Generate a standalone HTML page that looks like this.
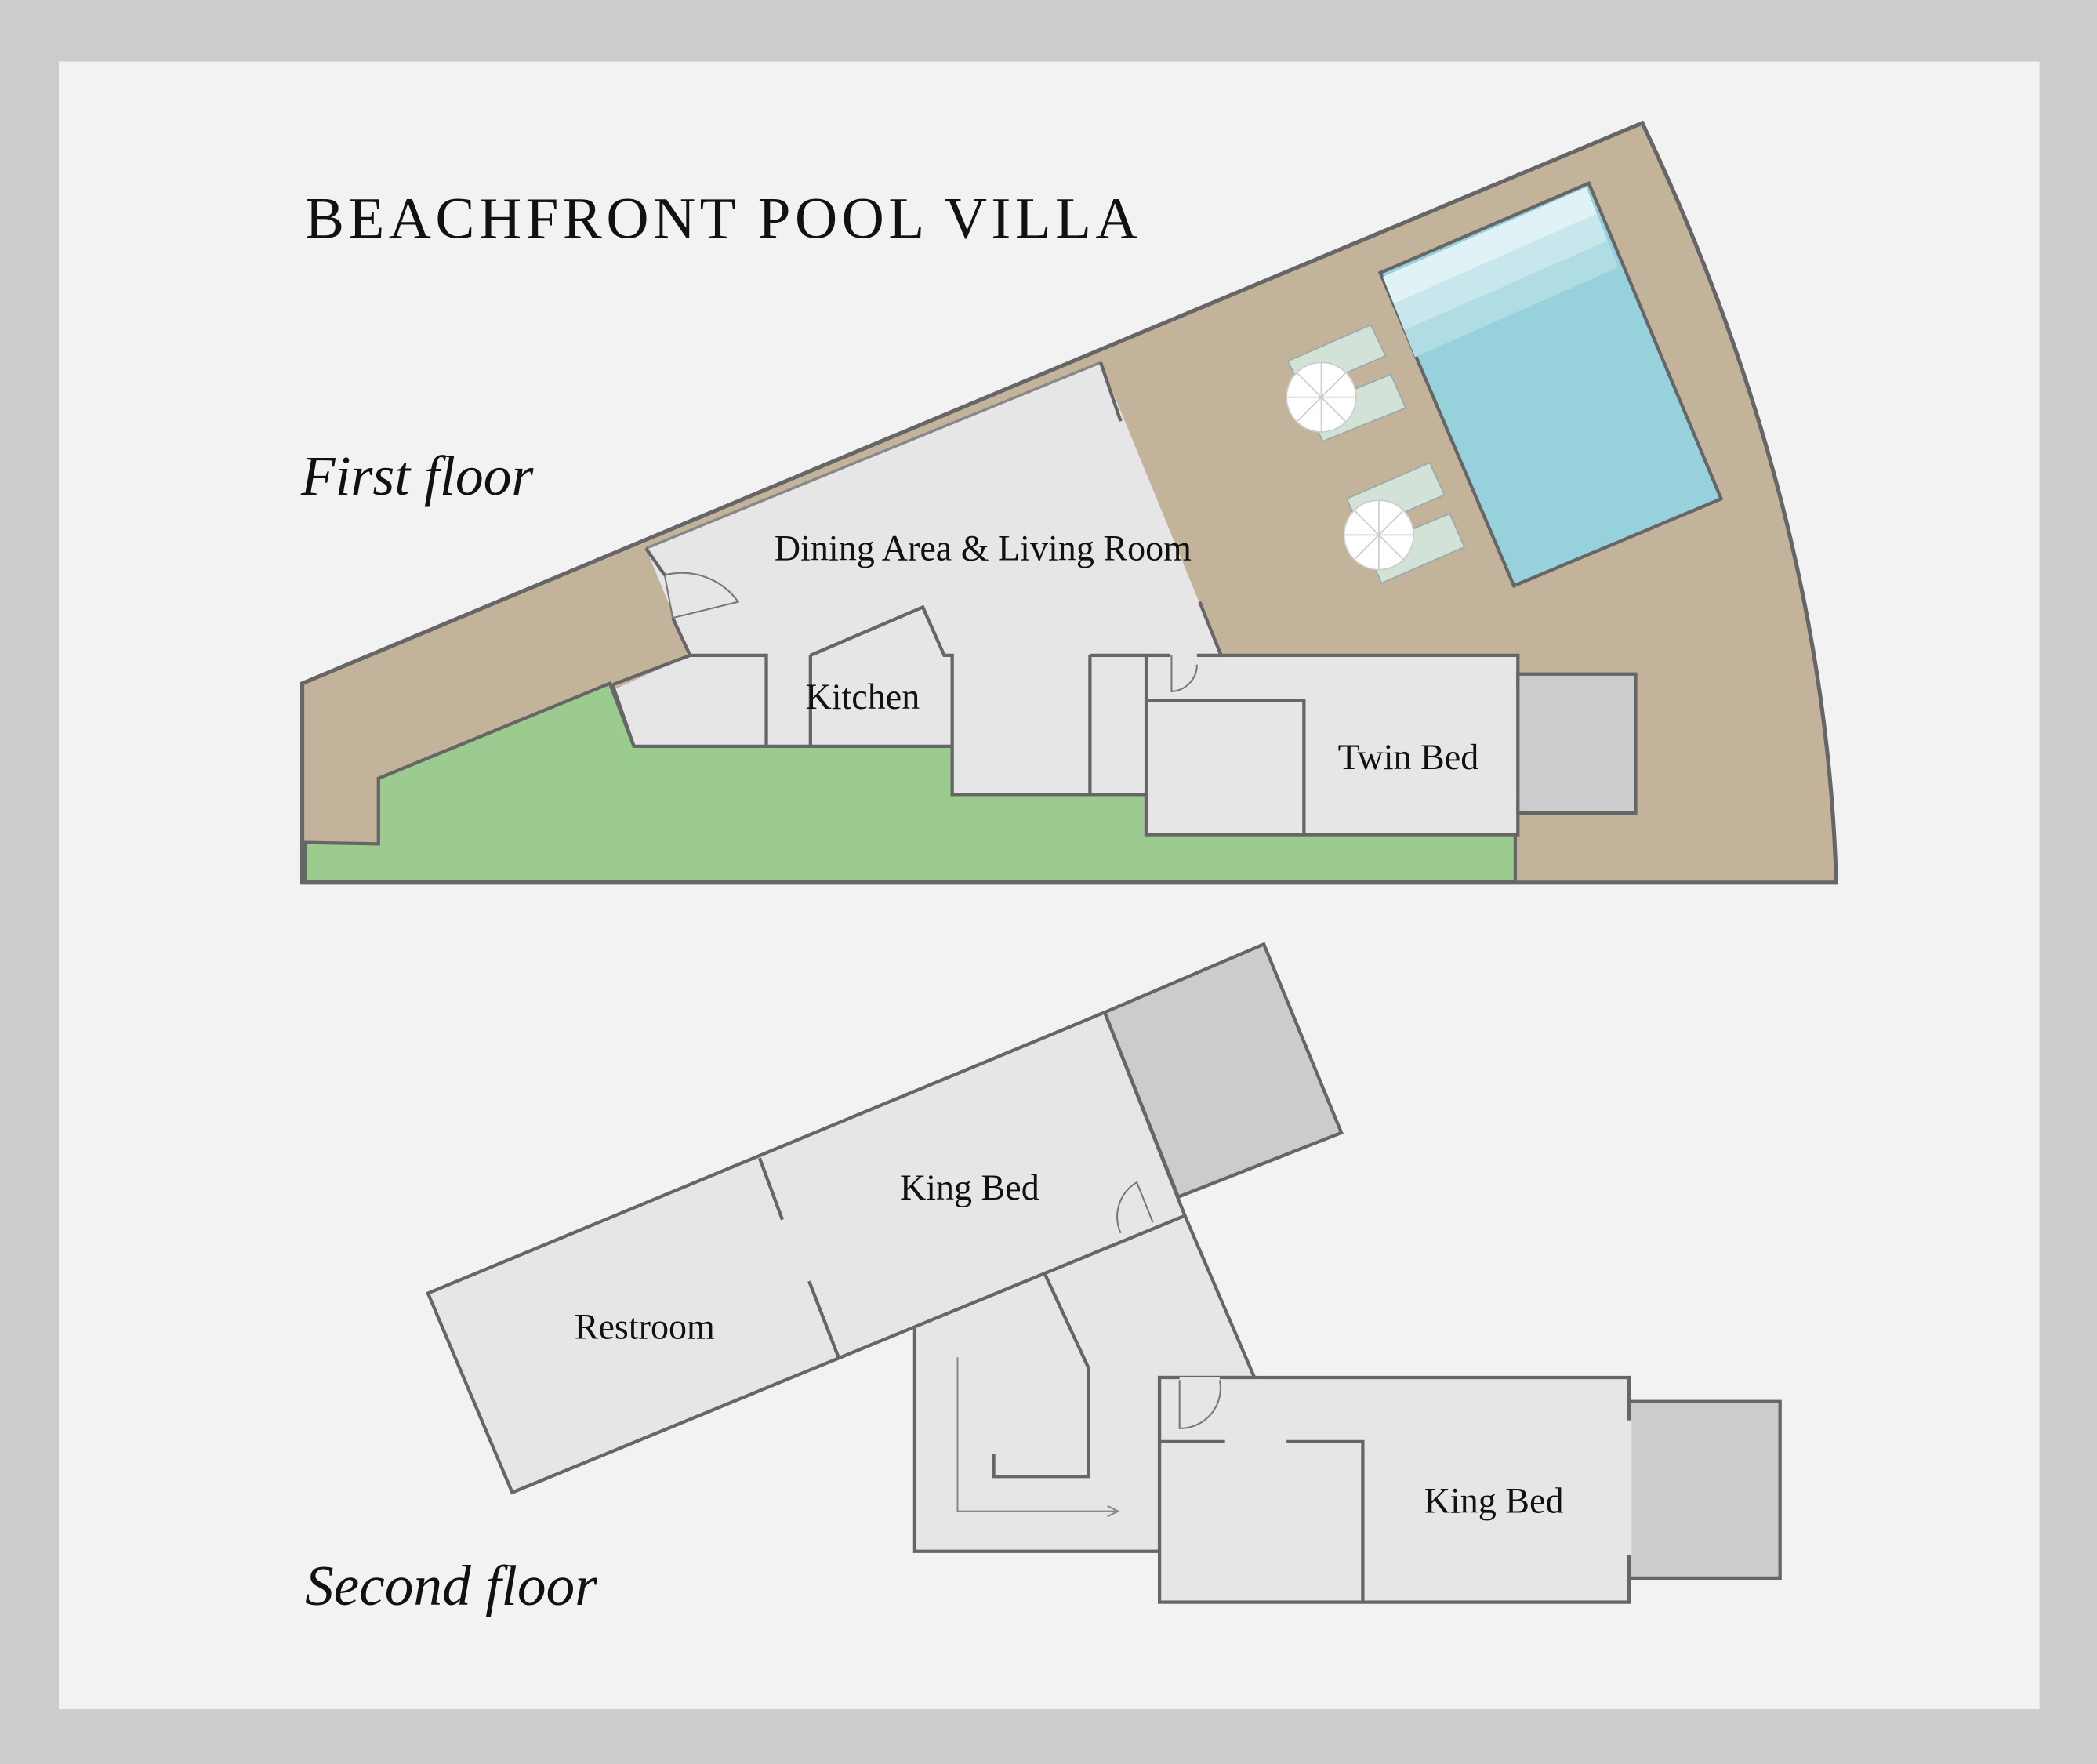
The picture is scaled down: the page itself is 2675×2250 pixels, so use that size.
<!DOCTYPE html>
<html><head><meta charset="utf-8"><style>
html,body{margin:0;padding:0;background:#ccc;}
svg{display:block}
</style></head><body>
<svg width="2675" height="2250" viewBox="0 0 1568 1319" preserveAspectRatio="none" xmlns="http://www.w3.org/2000/svg">
<rect x="0" y="0" width="1568" height="1319" fill="#cccccc"/>
<rect x="44" y="46" width="1481" height="1232" fill="#f2f2f2"/>
<text x="228" y="178" font-family="Liberation Serif, serif" font-size="44" letter-spacing="3.2" fill="#111">BEACHFRONT POOL VILLA</text>
<text x="225" y="370" font-family="Liberation Serif, serif" font-style="italic" font-size="42" fill="#111">First floor</text>
<text x="228" y="1200" font-family="Liberation Serif, serif" font-style="italic" font-size="43" fill="#111">Second floor</text>

<!-- First floor -->
<path d="M226,511 L1228,92 Q1365,380 1373,660 L226,660 Z" fill="#c2b39a" stroke="#666" stroke-width="3"/>
<polygon points="228,630 283,631 283,582 456,511 474,558 712,558 712,594 857,594 857,624 1133,624 1133,659 228,659" fill="#9ccb8f" stroke="#666" stroke-width="2.5"/>
<polygon points="483,410 823,271 913,490 1135,490 1135,624 857,624 857,594 712,594 712,558 474,558 458,516 516,490" fill="#e6e6e6"/>
<line x1="483" y1="410" x2="823" y2="271" stroke="#888" stroke-width="2"/>
<g fill="none" stroke="#666" stroke-width="2.5">
<polyline points="823,271 838,315"/>
<polyline points="897,450 913,490"/>
<polyline points="483,410 497,430"/>
<polyline points="503,462 516,490 573,490 573,558"/>
<polyline points="516,490 458,512 474,558 712,558"/>
<polyline points="606,490 606,558"/>
<polyline points="606,490 690,454 706,490 712,490 712,594 857,594"/>
<polyline points="815,490 815,594"/>
<polyline points="815,490 875,490"/>
<polyline points="857,490 857,624 1135,624 1135,600"/>
<polyline points="895,490 1135,490 1135,515"/>
<polyline points="857,524 975,524 975,624"/>
<rect x="1135" y="504" width="88" height="104" fill="#cccccc"/>
</g>
<path d="M497,430 L503,462 L552,450 A52,52 0 0 0 497,430" fill="none" stroke="#777" stroke-width="1.2"/>
<path d="M876,490 L876,517 A20,20 0 0 0 895,497" fill="none" stroke="#777" stroke-width="1.2"/>
<!-- pool -->
<polygon points="1032,204 1188,137 1287,373 1132,438" fill="#96d1dc" stroke="#666" stroke-width="2.5"/>
<polygon points="1034,207 1186,140 1194,160 1042,227" fill="#e0f2f5"/>
<polygon points="1042,227 1194,160 1202,180 1050,247" fill="#c7e7ec"/>
<polygon points="1050,247 1202,180 1210,200 1058,267" fill="#b0dde4"/>
<!-- loungers -->
<g fill="#d3e2d6" stroke="#9aa" stroke-width="1">
<polygon points="963,270 1025,243 1036,266 974,293"/>
<polygon points="978,305 1040,280 1051,305 989,330"/>
<polygon points="1007,373 1069,346 1080,370 1018,397"/>
<polygon points="1022,410 1084,384 1095,409 1033,436"/>
</g>
<g stroke="#ccc" stroke-width="1">
<circle cx="988" cy="297" r="26" fill="#fff"/>
<path d="M962,297 H1014 M988,271 V323 M970,279 L1006,315 M1006,279 L970,315" />
<circle cx="1031" cy="400" r="26" fill="#fff"/>
<path d="M1005,400 H1057 M1031,374 V426 M1013,382 L1049,418 M1049,382 L1013,418"/>
</g>
<text x="735" y="419" text-anchor="middle" font-family="Liberation Serif, serif" font-size="27" fill="#111">Dining Area &amp; Living Room</text>
<text x="645" y="530" text-anchor="middle" font-family="Liberation Serif, serif" font-size="27" fill="#111">Kitchen</text>
<text x="1053" y="575" text-anchor="middle" font-family="Liberation Serif, serif" font-size="27" fill="#111">Twin Bed</text>

<!-- Second floor -->
<g stroke="#666" stroke-width="2.5">
<polygon points="684,990 781,952 835,928 886,909 938,1030 867,1030 867,1160 684,1160" fill="#e6e6e6"/>
<polygon points="320,967 826,757 886,909 383,1116" fill="#e6e6e6"/>
<polygon points="826,757 945,706 1003,847 881,895" fill="#cccccc"/>
<rect x="867" y="1030" width="351" height="168" fill="#e6e6e6"/>
<rect x="1218" y="1048" width="113" height="132" fill="#cccccc"/>
</g>
<g fill="none" stroke="#666" stroke-width="2.5">
<line x1="568" y1="866" x2="585" y2="912"/>
<line x1="605" y1="958" x2="627" y2="1015"/>
<polyline points="781,952 814,1023 814,1104 743,1104 743,1087"/>
<line x1="867" y1="1078" x2="916" y2="1078"/>
<polyline points="962,1078 1019,1078 1019,1198"/>
</g>
<g fill="none" stroke="#e6e6e6" stroke-width="4">
<line x1="1218" y1="1062" x2="1218" y2="1163"/>
<line x1="882" y1="1032" x2="912" y2="1032"/>
</g>
<path d="M882,1032 L882,1068 A30,30 0 0 0 912,1032" fill="none" stroke="#777" stroke-width="1.2"/>
<path d="M862,914 L850,884 A30,30 0 0 0 838,922" fill="none" stroke="#777" stroke-width="1.2"/>
<polyline points="716,1015 716,1130 835,1130" fill="none" stroke="#888" stroke-width="1.2"/>
<polyline points="828,1126 836,1130 828,1134" fill="none" stroke="#888" stroke-width="1.2"/>
<text x="725" y="897" text-anchor="middle" font-family="Liberation Serif, serif" font-size="27" fill="#111">King Bed</text>
<text x="482" y="1001" text-anchor="middle" font-family="Liberation Serif, serif" font-size="27" fill="#111">Restroom</text>
<text x="1117" y="1131" text-anchor="middle" font-family="Liberation Serif, serif" font-size="27" fill="#111">King Bed</text>
</svg>
</body></html>
